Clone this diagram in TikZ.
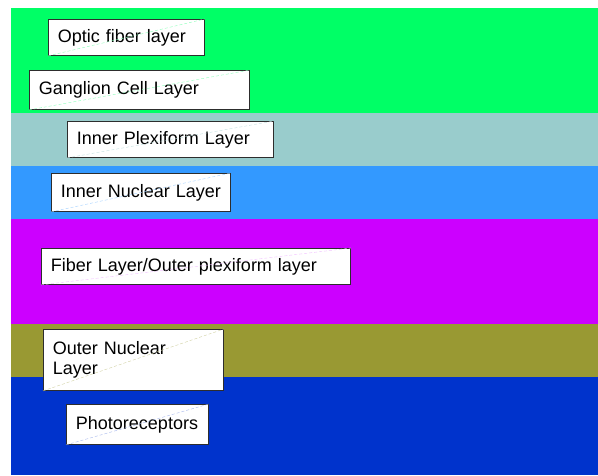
\documentclass[tikz,border=0pt]{standalone}
\usepackage{fontspec}
\setmainfont{Liberation Sans}
\usetikzlibrary{positioning}
\definecolor{layergreen}{HTML}{00FF66}
\definecolor{layerteal}{HTML}{99CCCC}
\definecolor{layerblue}{HTML}{3399FF}
\definecolor{layermagenta}{HTML}{CC00FF}
\definecolor{layerolive}{HTML}{999933}
\definecolor{layerdeep}{HTML}{0033CC}
\definecolor{boxedge}{RGB}{45, 45, 45}

\begin{document}
\begin{tikzpicture}[
        x=1pt, y=-1pt,
        %% Grid: one unit is one pixel of the 598x475 layout, y runs down.
        band/.style={draw=none},
        box/.style={rectangle, draw=boxedge, line width=0.9pt, fill=white, anchor=north west, inner xsep=9.5pt, inner ysep=2pt, align=left, font=\fontsize{18}{20.7}\selectfont},
        diag/.style={dashed, dash pattern=on 3pt off 2pt, line width=0.4pt}
    ]
    \useasboundingbox (0,0) rectangle (598,475);

    %% --- Layer bands, top to bottom ---
    \fill[band, layergreen]   (11,8)   rectangle (598,113);
    \fill[band, layerteal]    (11,113) rectangle (598,166);
    \fill[band, layerblue]    (11,166) rectangle (598,219);
    \fill[band, layermagenta] (11,219) rectangle (598,324);
    \fill[band, layerolive]   (11,324) rectangle (598,377);
    \fill[band, layerdeep]    (11,377) rectangle (598,475);

    %% --- Labels (top-left corner at fixed positions) ---
    \node[box, text width=137pt, minimum height=36pt] (optic)    at (48,19)  {\mbox{Optic fiber layer}};
    \node[box, text width=201pt, minimum height=39pt] (ganglion) at (29,70)  {\mbox{Ganglion Cell Layer}};
    \node[box, text width=187pt, minimum height=36pt] (iplex)    at (67,121) {\mbox{Inner Plexiform Layer}};
    \node[box, text width=160pt, minimum height=38pt] (inuc)     at (51,173) {\mbox{Inner Nuclear Layer}};
    \node[box, text width=290pt, minimum height=36pt] (oplex)    at (41,248) {\mbox{Fiber Layer/Outer plexiform layer}};
    \node[box, text width=161pt, minimum height=61pt] (onuc)     at (43,329) {Outer Nuclear\\Layer};
    \node[box, text width=123pt, minimum height=40pt] (photo)    at (66,404) {\mbox{Photoreceptors}};

    %% --- Faint diagonals across each label ---
    \draw[diag, layergreen!45]   (optic.south west)    -- (optic.north east);
    \draw[diag, layergreen!45]   (ganglion.south west) -- (ganglion.north east);
    \draw[diag, layerteal!60]    (iplex.south west)    -- (iplex.north east);
    \draw[diag, layerblue!45]    (inuc.south west)     -- (inuc.north east);
    \draw[diag, layermagenta!25] (oplex.south west)    -- (oplex.north east);
    \draw[diag, layerolive!45]   (onuc.south west)     -- (onuc.north east);
    \draw[diag, layerdeep!35]    (photo.south west)    -- (photo.north east);
    \end{tikzpicture}
\end{document}
